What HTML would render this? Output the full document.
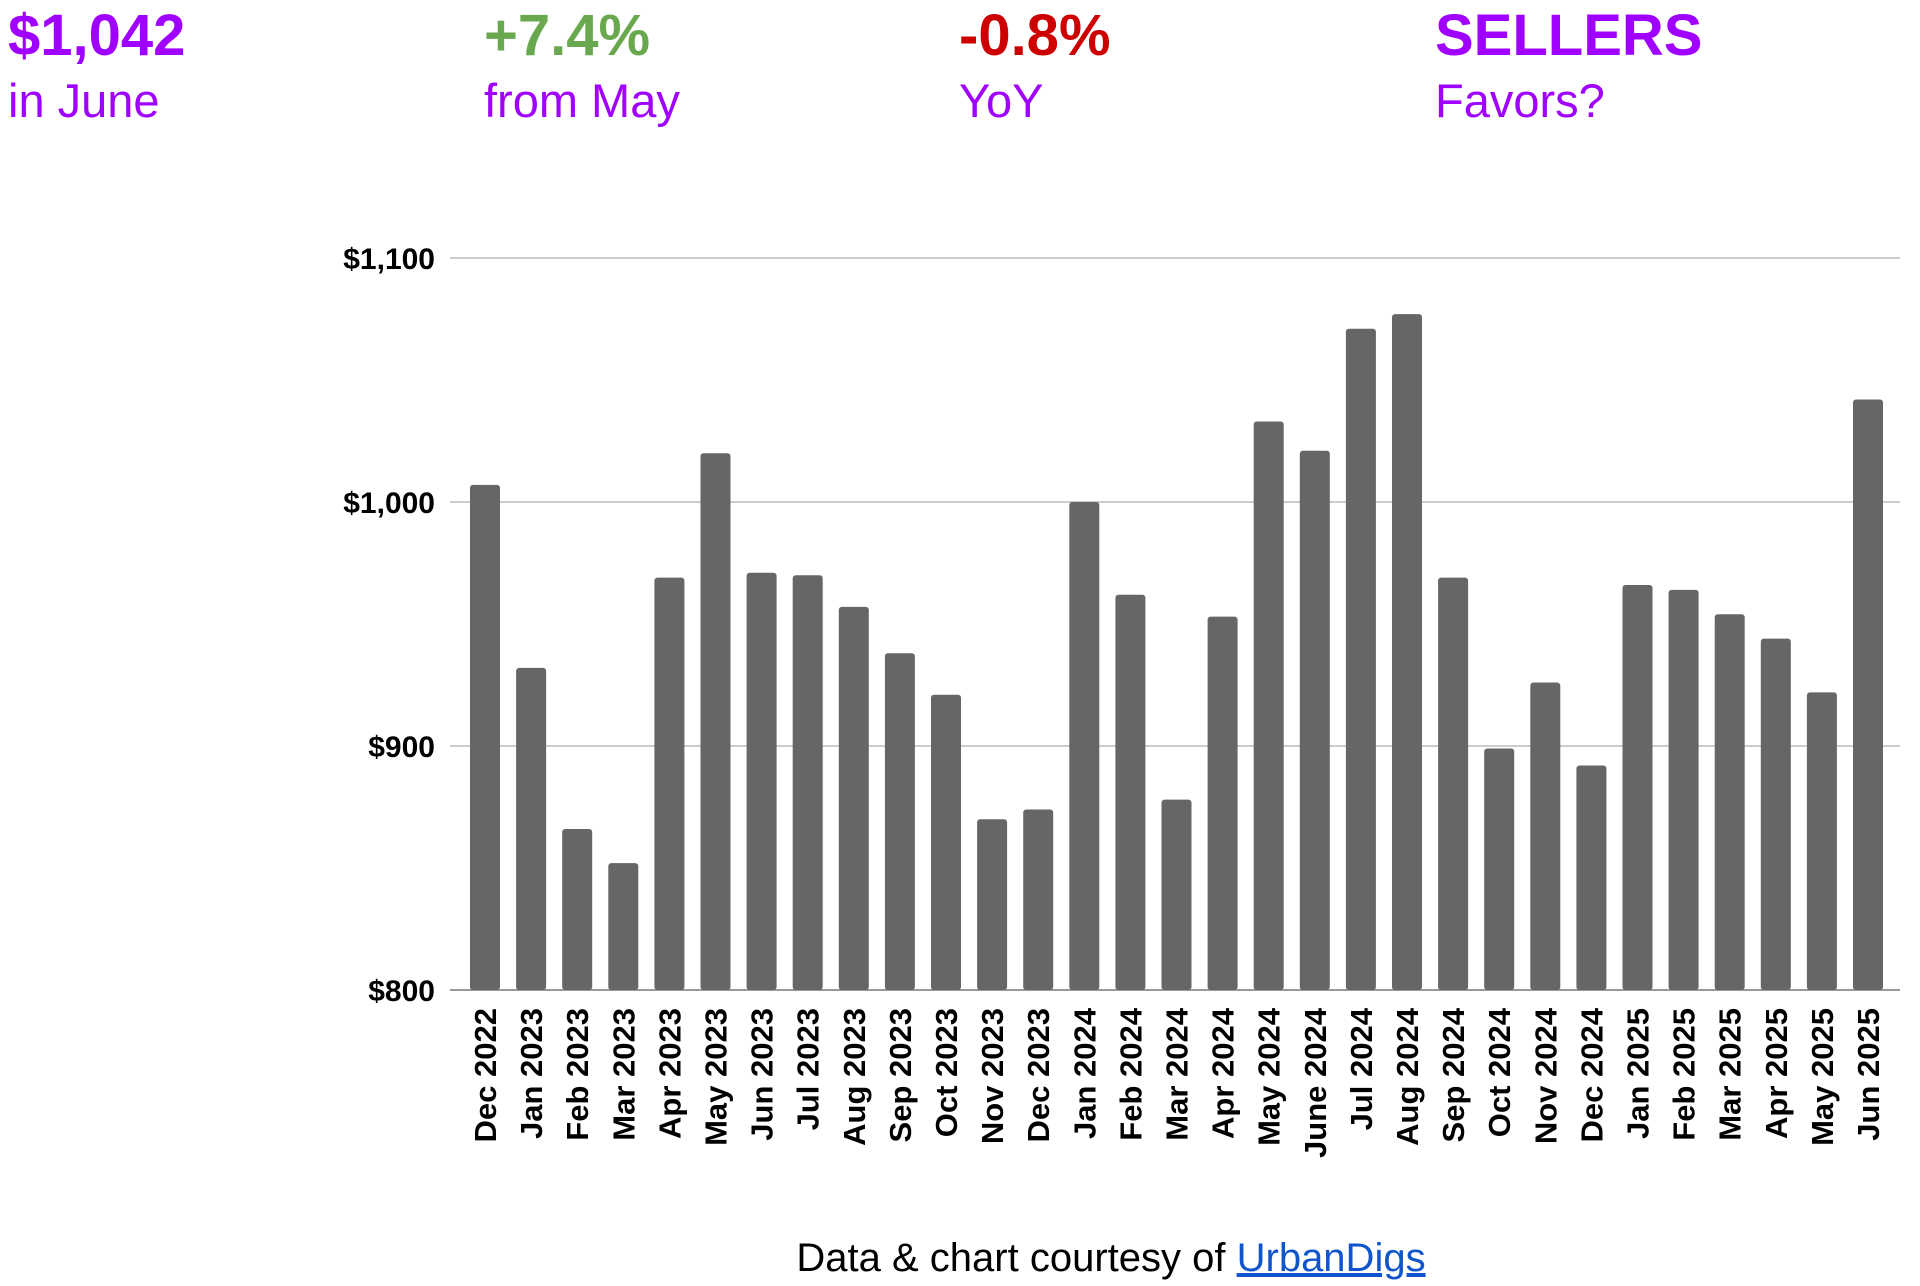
<!DOCTYPE html>
<html><head><meta charset="utf-8"><style>
body{margin:0;width:1920px;height:1286px;background:#fff;position:relative;overflow:hidden;font-family:"Liberation Sans",sans-serif}
.kpi{position:absolute;top:2px}
.big{font-weight:bold;font-size:58px;line-height:68px}
.sub{font-size:47px;color:#a000ff;line-height:62px}
#foot{position:absolute;top:1236px;left:0;width:2222px;text-align:center;font-size:40px;color:#000}
#foot a{color:#1155cc;text-decoration:underline}
</style></head><body>
<div class="kpi" style="left:8px"><div class="big" style="color:#a000ff">$1,042</div><div class="sub">in June</div></div>
<div class="kpi" style="left:484px"><div class="big" style="color:#6aa84f">+7.4%</div><div class="sub">from May</div></div>
<div class="kpi" style="left:959px"><div class="big" style="color:#cc0000">-0.8%</div><div class="sub">YoY</div></div>
<div class="kpi" style="left:1435px"><div class="big" style="color:#a000ff">SELLERS</div><div class="sub">Favors?</div></div>
<svg id="chart" width="1920" height="1286" style="position:absolute;left:0;top:0"></svg>
<div id="foot">Data &amp; chart courtesy of <a>UrbanDigs</a></div>
<script>
const categories=["Dec 2022","Jan 2023","Feb 2023","Mar 2023","Apr 2023","May 2023","Jun 2023","Jul 2023","Aug 2023","Sep 2023","Oct 2023","Nov 2023","Dec 2023","Jan 2024","Feb 2024","Mar 2024","Apr 2024","May 2024","June 2024","Jul 2024","Aug 2024","Sep 2024","Oct 2024","Nov 2024","Dec 2024","Jan 2025","Feb 2025","Mar 2025","Apr 2025","May 2025","Jun 2025"];
const values=[1007,932,866,852,969,1020,971,970,957,938,921,870,874,1000,962,878,953,1033,1021,1071,1077,969,899,926,892,966,964,954,944,922,1042];
const ticks=[800,900,1000,1100];
const tickLabels=["$800","$900","$1,000","$1,100"];
const NS="http://www.w3.org/2000/svg";
const svg=document.getElementById('chart');
const y0=990,y1=258,vmin=800,vmax=1100;
const y=v=>y0-(v-vmin)/(vmax-vmin)*(y0-y1);
const xL=450,xR=1900,step=(1868-485)/30;
const x=i=>485+i*step;
function mk(t,a){const e=document.createElementNS(NS,t);for(const k in a)e.setAttribute(k,a[k]);svg.appendChild(e);return e;}
ticks.forEach((t,i)=>{
 const g=mk('line',{x1:xL,x2:xR,y1:y(t),y2:y(t),stroke:i==0?'#999':'#ccc','stroke-width':2});
 
 
 const l=mk('text',{x:435,y:y(t)+11,'text-anchor':'end','font-size':30,'font-weight':'bold','font-family':'Liberation Sans'});
 l.textContent=tickLabels[i];
 
 
});
values.forEach((v,i)=>{
 const b=mk('rect',{x:x(i)-15,y:y(v),width:30,height:y0-y(v),fill:'#666',rx:3});
 
 
 const t=mk('text',{transform:`translate(${x(i)+11},1008) rotate(-90)`,'text-anchor':'end','font-size':31,'font-weight':'bold','font-family':'Liberation Sans'});
 t.textContent=categories[i];
 
 
});
</script>
</body></html>
